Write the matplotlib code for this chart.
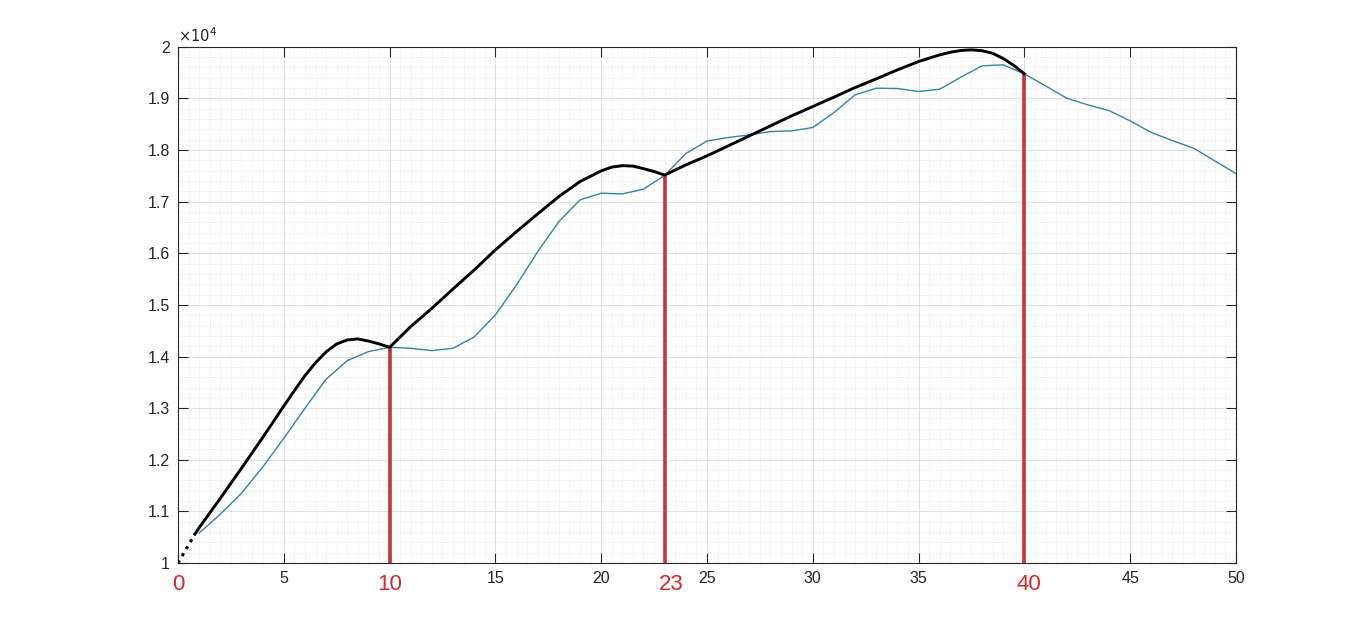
import matplotlib.pyplot as plt
from matplotlib.ticker import MultipleLocator, FuncFormatter
import matplotlib.transforms as mtransforms

plt.rcParams['font.family'] = ['Liberation Sans', 'DejaVu Sans']

# исходный ряд (синяя линия)
x_blue = list(range(1, 51))
y_blue = [10580, 10944, 11351, 11855, 12416, 12997, 13560, 13921, 14095, 14178,
          14160, 14115, 14160, 14380, 14806, 15388, 16033, 16615, 17035, 17164,
          17151, 17242, 17510, 17933, 18175, 18243, 18295, 18359, 18372, 18437,
          18727, 19070, 19199, 19193, 19134, 19180, 19413, 19632, 19651, 19475,
          19245, 19005, 18876, 18766, 18566, 18340, 18184, 18036, 17791, 17545]

# кусочная аппроксимация (чёрная линия)
x_dot = [0, 0.8]
y_dot = [10000, 10560]
x_fit = [0.8, 1, 2, 3, 4, 5, 5.5, 6, 6.5, 7, 7.5, 8, 8.5, 9, 9.5, 10,
         11, 12, 13, 14, 15, 16, 17, 18, 19, 20, 20.5, 21, 21.5, 22, 22.5, 23,
         24, 25, 26, 27, 28, 29, 30, 31, 32, 33, 34, 35, 36, 36.5, 37, 37.5,
         38, 38.5, 39, 39.5, 40]
y_fit = [10560, 10684, 11253, 11835, 12429, 13040, 13340, 13630, 13880, 14090, 14244, 14322, 14341, 14300, 14245, 14178,
         14580, 14935, 15310, 15678, 16066, 16421, 16764, 17100, 17390, 17597, 17670, 17698, 17690, 17640, 17585, 17515,
         17713, 17888, 18081, 18275, 18469, 18663, 18844, 19025, 19212, 19380, 19554, 19716, 19845, 19895, 19930, 19942,
         19925, 19875, 19775, 19640, 19477]

# точки разбиения
breaks = [10, 23, 40]
break_vals = [14178, 17515, 19477]
break_labels = ['0', '10', '23', '40']
break_label_x = [0, 10, 23.3, 40.2]

fig = plt.figure(figsize=(13.66, 6.34), dpi=100)
ax = fig.add_axes([0.1303, 0.112, 0.7745, 0.8141])

ax.plot(x_blue, y_blue, color='#3483a5', lw=1.0, zorder=3)
ax.plot(x_dot, y_dot, color='black', lw=2.2, ls=':', zorder=4)
ax.plot(x_fit, y_fit, color='black', lw=2.1, zorder=4)
ax.vlines(breaks, 10000, break_vals, color='#c8323a', lw=2.6, zorder=2)

ax.set_xlim(0, 50)
ax.set_ylim(10000, 20000)
ax.xaxis.set_major_locator(MultipleLocator(5))
ax.xaxis.set_minor_locator(MultipleLocator(0.5))
ax.yaxis.set_major_locator(MultipleLocator(1000))
ax.yaxis.set_minor_locator(MultipleLocator(200))

ax.xaxis.set_major_formatter(FuncFormatter(lambda v, p: '' if v in (0, 10, 40) else '%g' % v))
ax.yaxis.set_major_formatter(FuncFormatter(lambda v, p: '%g' % (v / 1e4)))

ax.tick_params(which='major', direction='in', length=7.5, width=0.8, top=True, right=True,
               labelsize=11.5, colors='#262626', pad=6)
ax.tick_params(which='minor', length=0, top=True, right=True)

ax.grid(True, which='major', color='#dcdcdc', lw=0.6, ls='-')
ax.grid(True, which='minor', color='#d8d8d8', lw=0.5, ls=':')
ax.set_axisbelow(True)
for s in ax.spines.values():
    s.set_color('#262626')
    s.set_linewidth(0.8)

ax.text(0, 1.003, r'$\times10^{4}$', transform=ax.transAxes, fontsize=10.5,
        color='#262626', ha='left', va='bottom')

trans = mtransforms.blended_transform_factory(ax.transData, ax.transAxes)
for xl, lab in zip(break_label_x, break_labels):
    ax.text(xl, -0.022, lab, transform=trans, color='#d02a2a', fontsize=16,
            ha='center', va='top')

fig.savefig('out.png', dpi=100)
